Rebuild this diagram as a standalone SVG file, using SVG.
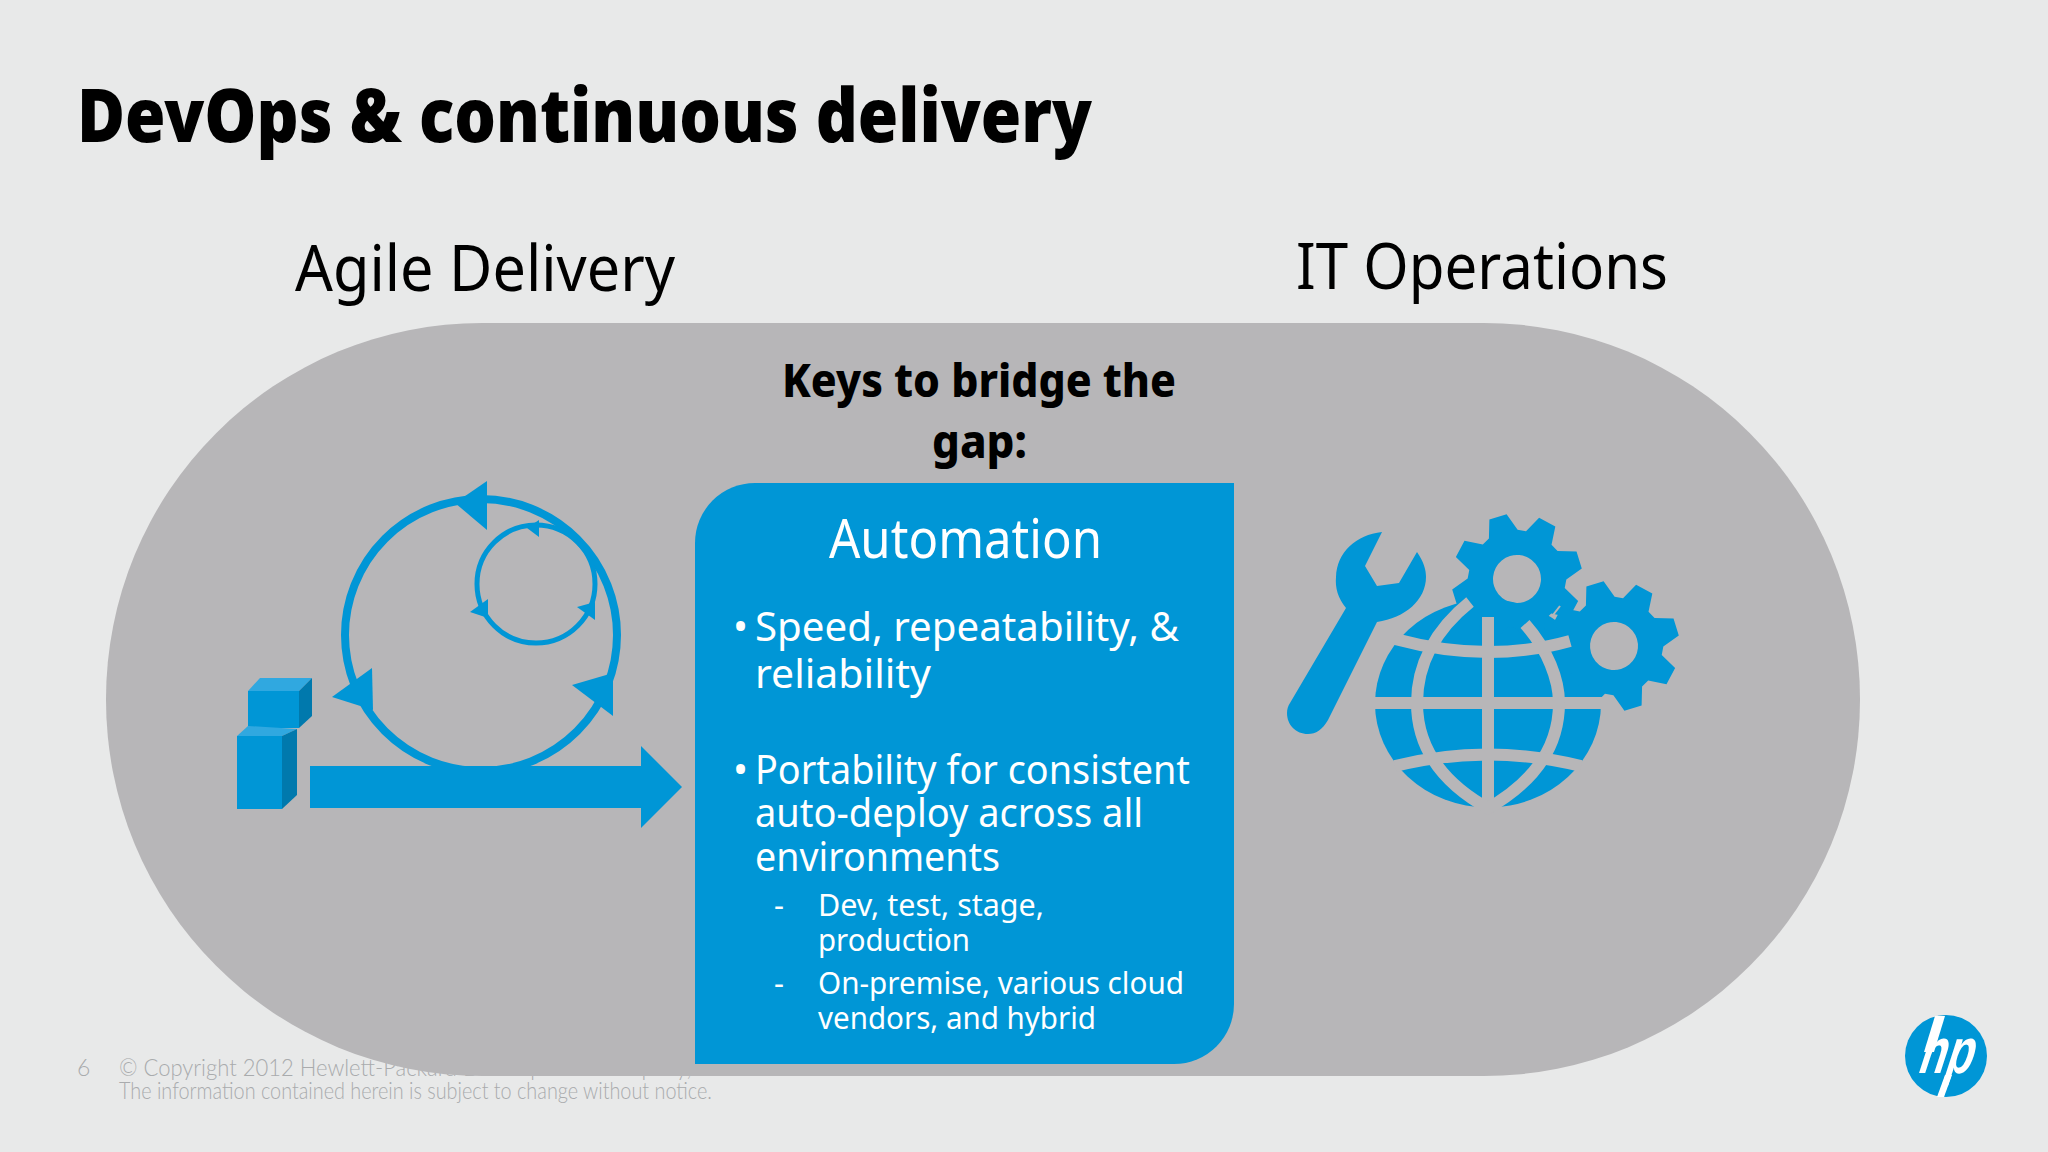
<svg xmlns="http://www.w3.org/2000/svg" width="2048" height="1152" viewBox="0 0 2048 1152">
<style>
.b{fill:#0096d6}
.g{fill:none;stroke:#b7b6b8;stroke-width:12}
.w{fill:#fff;font-family:"Noto Sans","Open Sans",sans-serif}
.k{fill:#000;font-family:"Noto Sans","Open Sans",sans-serif}
.f{fill:#a9abad;font-family:Lato,"Liberation Sans",sans-serif;font-weight:300;font-size:23px}
.l{font-size:40px}
.s{font-size:31px}
</style>
<defs>
<path id="gear" fill-rule="evenodd" d="M-15-47L-9-65L9-65L15-47L22.6-43L39-52L52-39L43-22.6L47-15L65-9L65 9L47 15L43 22.6L52 39L39 52L22.6 43L15 47L9 65L-9 65L-15 47L-22.6 43L-39 52L-52 39L-43 22.6L-47 15L-65 9L-65-9L-47-15L-43-22.6L-52-39L-39-52L-22.6-43ZM0-24A24 24 0 1 0 0 24A24 24 0 1 0 0-24Z"/>
</defs>
<rect width="2048" height="1152" fill="#e8e9e9"/>
<g id="footer">
<text class="f" x="77" y="1076">6</text>
<text class="f" x="119" y="1076" textLength="610" lengthAdjust="spacingAndGlyphs">© Copyright 2012 Hewlett-Packard Development Company, L.P.</text>
<text class="f" x="119" y="1099" textLength="593" lengthAdjust="spacingAndGlyphs">The information contained herein is subject to change without notice.</text>
</g>
<g id="title"><text class="k" x="77" y="142" font-size="74" font-weight="900" textLength="1015" lengthAdjust="spacingAndGlyphs">DevOps &amp; continuous delivery</text></g>
<g id="band"><rect x="106" y="323" width="1754" height="753" rx="376" ry="376" fill="#b7b6b8"/></g>
<g id="agile-label"><text class="k" x="295" y="291" font-size="64" textLength="380" lengthAdjust="spacingAndGlyphs">Agile Delivery</text></g>
<g id="ops-label"><text class="k" x="1296" y="289" font-size="64" textLength="372" lengthAdjust="spacingAndGlyphs">IT Operations</text></g>
<g id="keys">
<text class="k" font-size="46" font-weight="800"><tspan x="782" y="397" textLength="394" lengthAdjust="spacingAndGlyphs">Keys to bridge the</tspan><tspan x="932" y="458" textLength="95" lengthAdjust="spacingAndGlyphs">gap:</tspan></text>
</g>
<g id="agile-icon">
<circle cx="481" cy="635" r="136" fill="none" stroke="#0096d6" stroke-width="8"/>
<circle cx="536" cy="584" r="59" fill="none" stroke="#0096d6" stroke-width="5"/>
<polygon class="b" points="487,481 455,503 487,530"/>
<polygon class="b" points="372,668 332,697 373,710"/>
<polygon class="b" points="572,685 613,673 613,716"/>
<polygon class="b" points="539,520 527,528 539,537"/>
<polygon class="b" points="488,599 470,612 488,618"/>
<polygon class="b" points="577,607 595,602 595,620"/>
<polygon class="b" points="310,766 641,766 641,746 682,787 641,828 641,808 310,808"/>
<polygon fill="#30a8e0" points="248,691 260,678 312,678 299,691"/>
<rect class="b" x="248" y="691" width="51" height="37"/>
<polygon fill="#0079ad" points="299,691 312,678 312,716 299,728"/>
<polygon fill="#30a8e0" points="237,736 248,726 297,729 282,736"/>
<rect class="b" x="237" y="736" width="45" height="73"/>
<polygon fill="#0079ad" points="282,736 297,729 297,795 282,809"/>
</g>
<g id="automation">
<path class="b" d="M755 483H1234V1004A60 60 0 0 1 1174 1064H695V543A60 60 0 0 1 755 483Z"/>
<text class="w" x="829" y="558" font-size="54" textLength="273" lengthAdjust="spacingAndGlyphs">Automation</text>
<text class="w l"><tspan x="733" y="641">•</tspan><tspan x="755" y="641" textLength="424" lengthAdjust="spacingAndGlyphs">Speed, repeatability, &amp;</tspan><tspan x="755" y="688" textLength="176" lengthAdjust="spacingAndGlyphs">reliability</tspan></text>
<text class="w l"><tspan x="733" y="784">•</tspan><tspan x="755" y="784" textLength="435" lengthAdjust="spacingAndGlyphs">Portability for consistent</tspan><tspan x="755" y="827" textLength="388" lengthAdjust="spacingAndGlyphs">auto-deploy across all</tspan><tspan x="755" y="871" textLength="245" lengthAdjust="spacingAndGlyphs">environments</tspan></text>
<text class="w s"><tspan x="774" y="916">-</tspan><tspan x="818" y="916" textLength="226" lengthAdjust="spacingAndGlyphs">Dev, test, stage,</tspan><tspan x="818" y="951" textLength="152" lengthAdjust="spacingAndGlyphs">production</tspan></text>
<text class="w s"><tspan x="774" y="994">-</tspan><tspan x="818" y="994" textLength="366" lengthAdjust="spacingAndGlyphs">On-premise, various cloud</tspan><tspan x="818" y="1029" textLength="278" lengthAdjust="spacingAndGlyphs">vendors, and hybrid</tspan></text>
</g>
<g id="ops-icon">
<path class="b" d="M1382 532L1365 566L1377 586L1399 583L1417 552C1424 562 1426 570 1426 577C1426 600 1405 618 1377 622L1328 720C1322 730 1316 734 1308 734C1296 734 1287 725 1287 713C1287 709 1288 706 1290 703L1346 608C1338 598 1335 588 1336 577C1337 552 1356 535 1382 532Z"/>
<ellipse class="b" cx="1488" cy="703.500" rx="113" ry="104"/>
<use href="#gear" class="b" transform="translate(1517 579) rotate(-17)"/>
<use href="#gear" class="b" transform="translate(1614 646) rotate(-17)"/>
<path class="g" d="M1488 617V812M1370 703H1606"/>
<path class="g" d="M1470 602C1435 630 1417 665 1417 703C1417 750 1445 785 1491 810M1525 624C1548 650 1559 680 1559 703C1559 750 1530 785 1485 810"/>
<path class="g" d="M1395 639Q1488 664 1570 641M1395 766Q1488 743 1581 766"/>
<path d="M1553 615L1560 606" fill="none" stroke="#b7b6b8" stroke-width="2"/>
</g>
<g id="hp-logo">
<circle class="b" cx="1946" cy="1056" r="41"/>
<text transform="translate(1916 1073) skewX(-18)" fill="#fff" font-family="Liberation Sans,sans-serif" font-weight="700" font-size="64" textLength="54" lengthAdjust="spacingAndGlyphs">hp</text>
<polygon fill="#fff" points="1935,1016 1945,1016 1934,1052 1924,1052"/>
<polygon fill="#fff" points="1937,1097 1944,1097 1952,1075 1945,1075"/>
</g>
</svg>
